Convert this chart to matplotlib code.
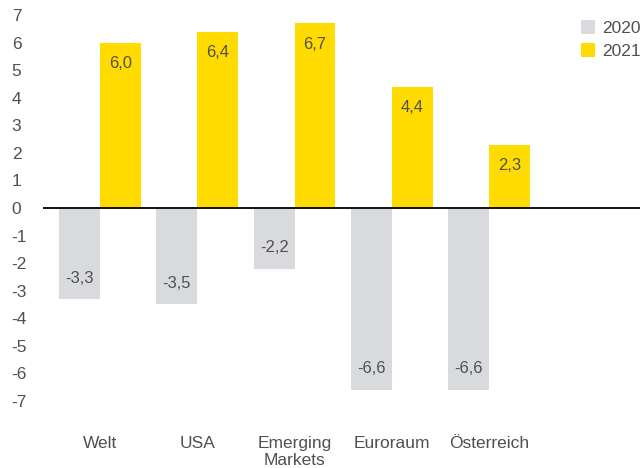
import matplotlib.pyplot as plt
import numpy as np

categories = ['Welt', 'USA', 'Emerging\nMarkets', 'Euroraum', 'Österreich']
values_2020 = [-3.3, -3.5, -2.2, -6.6, -6.6]
values_2021 = [6.0, 6.4, 6.7, 4.4, 2.3]
y_ticks = list(range(-7, 8))

grey = '#d8dadd'
yellow = '#ffdb00'
text_col = '#505050'

plt.rcParams['font.family'] = ['Liberation Sans', 'DejaVu Sans']

fig = plt.figure(figsize=(6.4, 4.68), dpi=100)
ax = fig.add_axes([43 / 640, 48 / 468, 597 / 640, 410 / 468])

x = np.arange(len(categories))
w = 0.42
b20 = ax.bar(x - w / 2, values_2020, w, color=grey, label='2020')
b21 = ax.bar(x + w / 2, values_2021, w, color=yellow, label='2021')

def fmt(v):
    return f"{v:.1f}".replace('.', ',')

for bars, vals in ((b20, values_2020), (b21, values_2021)):
    for rect, v in zip(bars, vals):
        cx = rect.get_x() + rect.get_width() / 2
        off = -15 if v > 0 else 15
        ax.annotate(fmt(v), (cx, v), xytext=(0, off), textcoords='offset points',
                    ha='center', va='center', fontsize=12, color=text_col)

ax.axhline(0, color='black', lw=1.3)
ax.set_xlim(-0.586, 5.55)
ax.set_ylim(-7.70, 7.19)

ax.set_yticks(y_ticks)
ax.set_yticklabels([str(t) for t in y_ticks], ha='left')
ax.tick_params(axis='y', length=0, pad=22.5, labelsize=12.5, labelcolor=text_col)
ax.set_xticks(x)
ax.set_xticklabels(categories)
ax.tick_params(axis='x', length=0, pad=11.5, labelsize=12.5, labelcolor=text_col)

for s in ax.spines.values():
    s.set_visible(False)

ax.legend(loc='upper left', bbox_to_anchor=(572 / 640, 1 - 11 / 468),
          bbox_transform=fig.transFigure, frameon=False, borderpad=0,
          handlelength=0.85, handleheight=0.85, handletextpad=0.4,
          labelspacing=0.45, fontsize=12.5, labelcolor=text_col)

fig.savefig('out.png', dpi=100)
